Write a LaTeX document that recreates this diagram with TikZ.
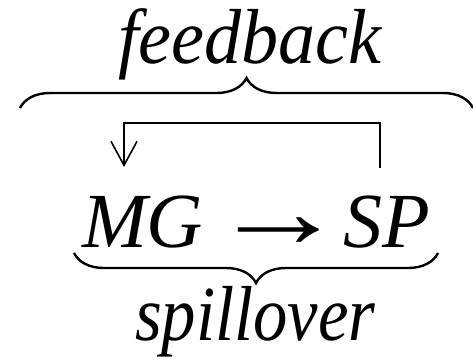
\documentclass[tikz,border=0pt]{standalone}
\usepackage{fontspec}
\setmainfont{Liberation Serif}[ItalicFont={Liberation Serif Italic}]
\usetikzlibrary{arrows.meta,decorations.pathreplacing,calc}
\tikzset{
  lbl/.style={inner sep=0pt,outer sep=0pt,font=\fontsize{78}{80}\selectfont\itshape,anchor=base west},
  bracestyle/.style={line width=2.4pt,decorate,decoration={brace,amplitude=30pt}},
  fbarrow/.style={line width=1.6pt,-{Straight Barb[length=24pt,width=26pt,line width=1.6pt]}},
}
\begin{document}
\begin{tikzpicture}[x=1pt,y=-1pt]
\useasboundingbox (0,0) rectangle (473,359);
\node[lbl] (fb) at (118,63) {\scalebox{0.95}[1]{feedback}};
\node[lbl] (mg) at (82,247) {MG};
\node[lbl,anchor=base,font=\fontsize{78}{80}\selectfont\upshape] (ar) at (279,247) {\scalebox{1.75}[1.35]{→}};
\node[lbl] (sp) at (343,247) {SP};
\node[lbl] (spill) at (135,340) {\scalebox{0.88}[1]{spillover}};
\draw[bracestyle] (20,108) -- (473,108);
\draw[bracestyle,decoration={mirror}] (74,253) -- (438,253);
\coordinate (fbr) at (380,168);
\coordinate (fbl) at (124,167);
\draw[fbarrow] (fbr) -- ++(0,-45) -| (fbl);
\end{tikzpicture}
\end{document}
